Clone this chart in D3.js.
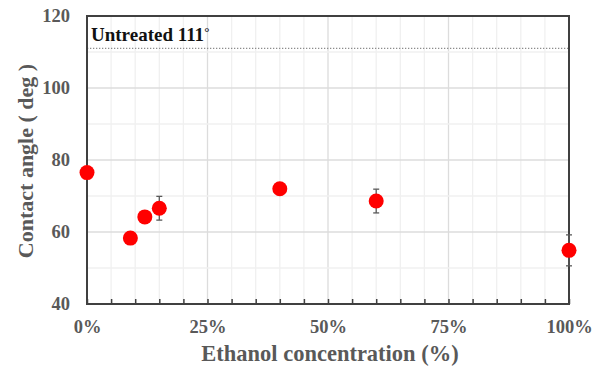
<!DOCTYPE html>
<html><head><meta charset="utf-8">
<script src="https://cdn.jsdelivr.net/npm/d3@7"></script>
<style>body{margin:0;background:#fff}svg{display:block}text{font-family:"Liberation Serif","Times New Roman",serif;font-weight:bold}</style>
</head><body><svg id="c" width="602" height="367"></svg>
<script>
const concentration = [0, 9, 12, 15, 40, 60, 100];
const contactAngle = [76.5, 58.3, 64.2, 66.6, 72.0, 68.6, 54.9];
const errorValue = [0, 0, 1.6, 3.3, 0, 3.3, 4.3];
const xTicks = [0, 25, 50, 75, 100];
const yTicks = [40, 60, 80, 100, 120];
const untreated = 111;
const untreatedLabel = "Untreated 111";

const svg = d3.select("#c");
const m = {l: 87, r: 569, t: 16, b: 304};
const x = d3.scaleLinear().domain([0, 100]).range([m.l, m.r]);
const y = d3.scaleLinear().domain([40, 120]).range([m.b, m.t]);

// grid
const g = svg.append("g");
g.selectAll(".vm").data(d3.range(5, 100, 5)).join("line")
  .attr("x1", d => x(d)).attr("x2", d => x(d)).attr("y1", m.t).attr("y2", m.b)
  .attr("stroke", d => d % 25 === 0 ? "#dcdcdc" : "#f0f0f0").attr("stroke-width", 1.3);
g.selectAll(".hm").data(d3.range(50, 120, 10)).join("line")
  .attr("y1", d => y(d)).attr("y2", d => y(d)).attr("x1", m.l).attr("x2", m.r)
  .attr("stroke", d => d % 20 === 0 ? "#dcdcdc" : "#f0f0f0").attr("stroke-width", 1.3);

// untreated reference line
svg.append("line").attr("x1", m.l).attr("x2", m.r).attr("y1", y(untreated)).attr("y2", y(untreated))
  .attr("stroke", "#8c8c8c").attr("stroke-width", 1.3).attr("stroke-dasharray", "1.3,1.7");
const ut = svg.append("text").attr("x", m.l + 4).attr("y", y(untreated) - 7).attr("font-size", 19)
  .attr("fill", "#111").text(untreatedLabel);
ut.append("tspan").attr("dy", -5).attr("font-size", 13).text("°");

// frame
svg.append("rect").attr("x", m.l).attr("y", m.t).attr("width", m.r - m.l).attr("height", m.b - m.t)
  .attr("fill", "none").attr("stroke", "#404040").attr("stroke-width", 2);

// x axis ticks (inward)
const xAxis = d3.axisBottom(x).tickValues(d3.range(0, 101, 5)).tickSize(-5).tickFormat("");
const xa = svg.append("g").attr("transform", `translate(0,${m.b})`).call(xAxis);
xa.select(".domain").remove();
xa.selectAll("line").attr("stroke", "#404040").attr("stroke-width", 1.5);

// x labels
const xl = svg.append("g").attr("transform", `translate(0,${m.b})`)
  .call(d3.axisBottom(x).tickValues(xTicks).tickSize(0).tickPadding(16).tickFormat(d => d + "%"));
xl.select(".domain").remove();
xl.selectAll("text").attr("font-size", 18.5).attr("fill", "#595959").attr("font-family", "Liberation Serif, serif").attr("font-weight", "bold");

// y labels
const yl = svg.append("g").attr("transform", `translate(${m.l},0)`)
  .call(d3.axisLeft(y).tickValues(yTicks).tickSize(0).tickPadding(17));
yl.select(".domain").remove();
yl.selectAll("text").attr("font-size", 18.5).attr("fill", "#595959").attr("font-family", "Liberation Serif, serif").attr("font-weight", "bold");

// titles
svg.append("text").attr("x", (m.l + m.r) / 2 + 2).attr("y", 361).attr("text-anchor", "middle")
  .attr("font-size", 22.5).attr("fill", "#595959").text("Ethanol concentration (%)");
svg.append("text").attr("transform", `translate(33,${(m.t + m.b) / 2 + 1}) rotate(-90)`).attr("text-anchor", "middle")
  .attr("font-size", 22).attr("fill", "#595959").text("Contact angle ( deg )");

// data
const data = concentration.map((c, i) => ({c, v: contactAngle[i], e: errorValue[i]}));
const eb = svg.append("g").attr("stroke", "#595959").attr("stroke-width", 1.3);
data.filter(d => d.e > 0).forEach(d => {
  eb.append("line").attr("x1", x(d.c)).attr("x2", x(d.c)).attr("y1", y(d.v + d.e)).attr("y2", y(d.v - d.e));
  [d.v + d.e, d.v - d.e].forEach(v => eb.append("line").attr("x1", x(d.c) - 3).attr("x2", x(d.c) + 3).attr("y1", y(v)).attr("y2", y(v)));
});
svg.append("g").selectAll("circle").data(data).join("circle")
  .attr("cx", d => x(d.c)).attr("cy", d => y(d.v)).attr("r", 7.5).attr("fill", "#ff0000");
</script></body></html>
